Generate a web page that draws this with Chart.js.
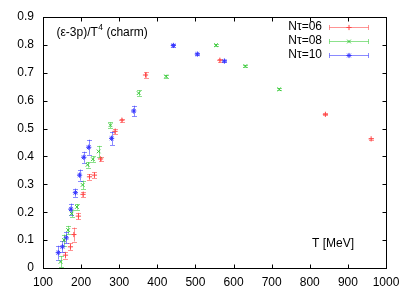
<!DOCTYPE html>
<html>
<head>
<meta charset="utf-8">
<script src="https://cdn.jsdelivr.net/npm/chart.js@4.4.0/dist/chart.umd.min.js"></script>
<style>
html,body{margin:0;padding:0;background:#fff;}
#wrap{width:411px;height:296px;position:relative;}
</style>
</head>
<body>
<div id="wrap"><canvas id="c" width="411" height="296"></canvas></div>
<script>
// ---- data ----
const seriesLabels = ['N\u03c4=06', 'N\u03c4=08', 'N\u03c4=10'];

const tempN06 = [159, 172, 181, 193, 205, 222, 235, 251, 289, 307, 369, 564, 841, 961];
const valN06  = [0.046, 0.076, 0.120, 0.186, 0.264, 0.327, 0.333, 0.391, 0.490, 0.530, 0.692, 0.745, 0.551, 0.463];
const errN06  = [0.012, 0.012, 0.025, 0.012, 0.010, 0.010, 0.010, 0.007, 0.010, 0.006, 0.010, 0.005, 0.003, 0.003];

const tempN08 = [146, 155, 166, 175, 189, 204, 217, 231, 246, 277, 351, 423, 554, 631, 720];
const valN08  = [0.022, 0.100, 0.136, 0.195, 0.219, 0.298, 0.370, 0.390, 0.418, 0.512, 0.627, 0.687, 0.799, 0.724, 0.641];
const errN08  = [0.020, 0.020, 0.015, 0.012, 0.010, 0.015, 0.010, 0.010, 0.020, 0.010, 0.010, 0.006, 0.004, 0.003, 0.003];

const tempN10 = [140, 151, 161, 173, 185, 196, 207, 220, 280, 338, 442, 505, 576];
const valN10  = [0.055, 0.076, 0.108, 0.211, 0.270, 0.333, 0.397, 0.433, 0.465, 0.563, 0.798, 0.767, 0.742];
const errN10  = [0.025, 0.020, 0.020, 0.020, 0.015, 0.020, 0.020, 0.027, 0.024, 0.019, 0.006, 0.005, 0.005];

const xTicks = [100, 200, 300, 400, 500, 600, 700, 800, 900, 1000];
const yTicks = [0, 0.1, 0.2, 0.3, 0.4, 0.5, 0.6, 0.7, 0.8, 0.9];

const titleMain = '(\u03b5-3p)/T';
const titleSup = '4';
const titleRest = ' (charm)';
const xAxisLabel = 'T [MeV]';

// ---- styles ----
const colors = ['#ff4646', '#38c838', '#3434ff'];
const barColors = ['rgba(255,60,60,0.55)', 'rgba(46,200,46,0.55)', 'rgba(42,42,255,0.55)'];
const styles = ['cross', 'crossRot', 'star'];
const FONT = "'Liberation Sans', Arial, Helvetica, sans-serif";

function toPoints(xs, ys, es) {
  return xs.map((x, i) => ({x: x, y: ys[i], e: es[i]}));
}

const datasets = [
  {label: seriesLabels[0], data: toPoints(tempN06, valN06, errN06)},
  {label: seriesLabels[1], data: toPoints(tempN08, valN08, errN08)},
  {label: seriesLabels[2], data: toPoints(tempN10, valN10, errN10)}
].map((d, i) => Object.assign(d, {
  showLine: false,
  pointStyle: styles[i],
  pointRadius: 2.6,
  pointBorderWidth: 1,
  borderColor: colors[i],
  backgroundColor: colors[i],
  barColor: barColors[i]
}));

function drawMarker(ctx, style, x, y, r) {
  ctx.beginPath();
  if (style === 'cross' || style === 'star') {
    ctx.moveTo(x - r, y); ctx.lineTo(x + r, y);
    ctx.moveTo(x, y - r); ctx.lineTo(x, y + r);
  }
  if (style === 'crossRot' || style === 'star') {
    const d = r * 0.7071;
    ctx.moveTo(x - d, y - d); ctx.lineTo(x + d, y + d);
    ctx.moveTo(x - d, y + d); ctx.lineTo(x + d, y - d);
  }
  ctx.stroke();
}

const errorBars = {
  id: 'errorBars',
  beforeDatasetsDraw(chart) {
    const ctx = chart.ctx, xs = chart.scales.x, ys = chart.scales.y;
    ctx.save();
    ctx.lineWidth = 1;
    chart.data.datasets.forEach(ds => {
      ctx.strokeStyle = ds.barColor;
      ds.data.forEach(p => {
        const px = Math.round(xs.getPixelForValue(p.x)) + 0.5;
        const y1 = ys.getPixelForValue(p.y - p.e);
        const y2 = ys.getPixelForValue(p.y + p.e);
        ctx.beginPath();
        ctx.moveTo(px, y1); ctx.lineTo(px, y2);
        ctx.moveTo(px - 2.5, Math.round(y1) + 0.5); ctx.lineTo(px + 2.5, Math.round(y1) + 0.5);
        ctx.moveTo(px - 2.5, Math.round(y2) + 0.5); ctx.lineTo(px + 2.5, Math.round(y2) + 0.5);
        ctx.stroke();
      });
    });
    ctx.restore();
  }
};

const frameAndText = {
  id: 'frameAndText',
  afterDraw(chart) {
    const ctx = chart.ctx, a = chart.chartArea, xs = chart.scales.x, ys = chart.scales.y;
    ctx.save();
    ctx.strokeStyle = '#000';
    ctx.lineWidth = 1;
    const L = Math.round(a.left) + 0.5, R = Math.round(a.right) + 0.5;
    const T = Math.round(a.top) + 0.5, B = Math.round(a.bottom) + 0.5;
    ctx.strokeRect(L, T, R - L, B - T);
    const tl = 4;
    ctx.beginPath();
    xTicks.forEach(v => {
      const px = Math.round(xs.getPixelForValue(v)) + 0.5;
      ctx.moveTo(px, B); ctx.lineTo(px, B - tl);
      ctx.moveTo(px, T); ctx.lineTo(px, T + tl);
    });
    yTicks.forEach(v => {
      const py = Math.round(ys.getPixelForValue(v)) + 0.5;
      ctx.moveTo(L, py); ctx.lineTo(L + tl, py);
      ctx.moveTo(R, py); ctx.lineTo(R - tl, py);
    });
    ctx.stroke();

    // title inside the plot
    ctx.fillStyle = '#000';
    ctx.textBaseline = 'alphabetic';
    ctx.textAlign = 'left';
    ctx.font = '12px ' + FONT;
    let tx = a.left + 13.5, ty = 35.5;
    ctx.fillText(titleMain, tx, ty);
    tx += ctx.measureText(titleMain).width;
    ctx.font = '8.5px ' + FONT;
    ctx.fillText(titleSup, tx + 0.5, ty - 5.5);
    tx += ctx.measureText(titleSup).width + 0.5;
    ctx.font = '12px ' + FONT;
    ctx.fillText(titleRest, tx, ty);

    // x axis label inside the plot
    ctx.fillText(xAxisLabel, 312, 247);

    // legend
    const rows = [26.5, 40.5, 54.5];
    chart.data.datasets.forEach((ds, i) => {
      const y = rows[i];
      ctx.font = '12px ' + FONT;
      ctx.textAlign = 'right';
      ctx.textBaseline = 'middle';
      ctx.fillStyle = '#000';
      ctx.fillText(ds.label, 322, y + 0.5);
      const x0 = 329.5, x1 = 368.5, yy = Math.round(y) + 0.5;
      ctx.strokeStyle = ds.barColor;
      ctx.beginPath();
      ctx.moveTo(x0, yy); ctx.lineTo(x1, yy);
      ctx.moveTo(x0, yy - 2.5); ctx.lineTo(x0, yy + 2.5);
      ctx.moveTo(x1, yy - 2.5); ctx.lineTo(x1, yy + 2.5);
      ctx.stroke();
      ctx.strokeStyle = ds.borderColor;
      drawMarker(ctx, ds.pointStyle, 349, yy, 2.6);
    });
    ctx.restore();
  }
};

new Chart(document.getElementById('c'), {
  type: 'scatter',
  data: {datasets: datasets},
  plugins: [errorBars, frameAndText],
  options: {
    responsive: false,
    animation: false,
    devicePixelRatio: 1,
    layout: {padding: {left: 0, top: 17, right: 25, bottom: 0}},
    plugins: {legend: {display: false}, tooltip: {enabled: false}, title: {display: false}},
    scales: {
      x: {
        type: 'linear', min: 100, max: 1000,
        afterBuildTicks: s => { s.ticks = xTicks.map(v => ({value: v})); },
        afterFit: s => { s.height = 28; },
        grid: {display: false, drawTicks: false},
        border: {display: false},
        ticks: {
          padding: 7, maxRotation: 0, autoSkip: false,
          color: '#000', font: {family: FONT, size: 12},
          callback: v => String(v)
        }
      },
      y: {
        type: 'linear', min: 0, max: 0.9,
        afterBuildTicks: s => { s.ticks = yTicks.map(v => ({value: v})); },
        afterFit: s => { s.width = 43; },
        grid: {display: false, drawTicks: false},
        border: {display: false},
        ticks: {
          padding: 9, autoSkip: false,
          color: '#000', font: {family: FONT, size: 12},
          callback: v => String(+Number(v).toFixed(1))
        }
      }
    }
  }
});
</script>
</body>
</html>
